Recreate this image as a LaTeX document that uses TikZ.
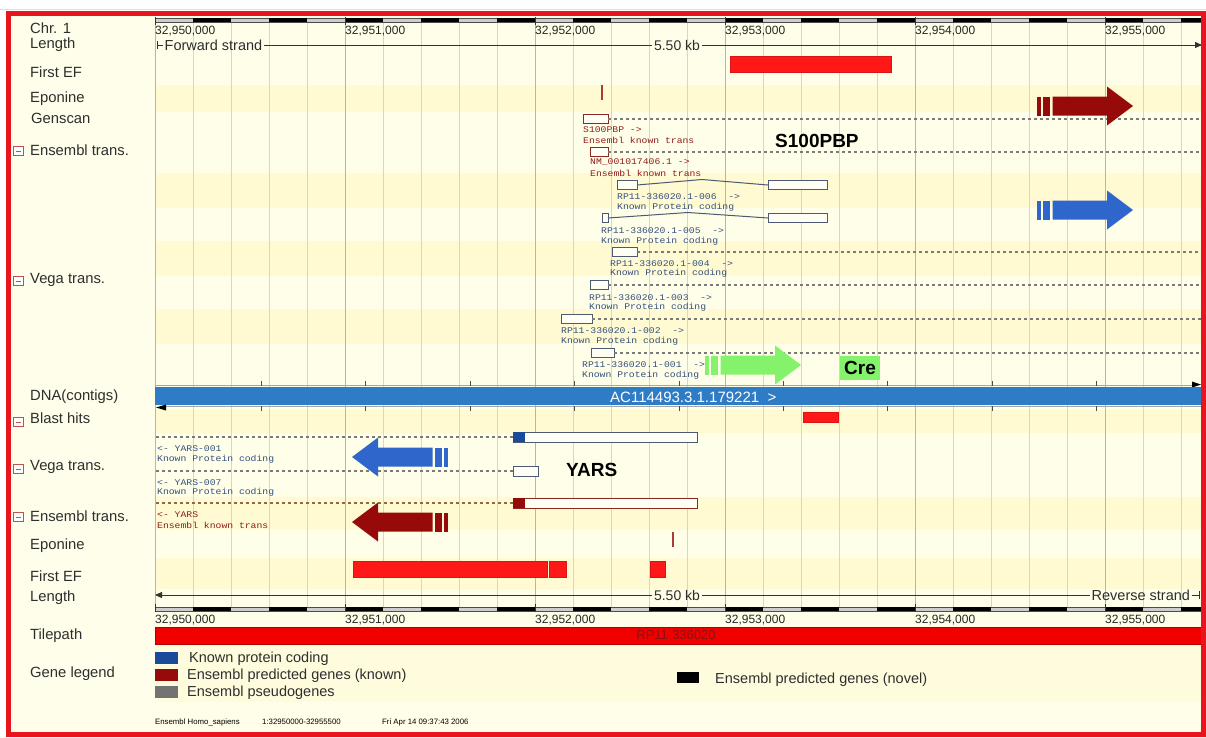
\documentclass[tikz,border=0pt]{standalone}
\usepackage{fontspec}
\setmainfont{Liberation Sans}
\newfontfamily\monof[FakeStretch=1.12]{Liberation Mono}
\usetikzlibrary{arrows.meta}

\definecolor{framered}{HTML}{E8141E}
\definecolor{bgA}{HTML}{FFFEE8}
\definecolor{bgB}{HTML}{FFFAD2}
\definecolor{bgC}{HTML}{FFFCDE}
\definecolor{panel}{HTML}{FFFEEA}
\definecolor{gridmin}{HTML}{DAD6C0}
\definecolor{gridmaj}{HTML}{BAB6A2}
\definecolor{efred}{HTML}{FF1818}
\definecolor{dred}{HTML}{960A0A}
\definecolor{vblue}{HTML}{2F66CC}
\definecolor{cgreen}{HTML}{84F26A}
\definecolor{dnablue}{HTML}{2E7CC6}
\definecolor{vegaline}{HTML}{4C5A74}
\definecolor{enline}{HTML}{8A2A1C}
\definecolor{vegatext}{HTML}{34507E}
\definecolor{entext}{HTML}{8E1E1E}
\definecolor{dashc}{HTML}{7A7A7A}
\definecolor{endash}{HTML}{8A6A4A}
\definecolor{labtext}{HTML}{2E2E2E}
\definecolor{kpblue}{HTML}{1A4B9B}
\definecolor{pseudo}{HTML}{737373}
\definecolor{scalegray}{HTML}{CDCDCD}
\definecolor{iconred}{HTML}{C0504D}
\definecolor{exfill}{HTML}{FFFEF4}
\definecolor{tiletext}{HTML}{8B1010}

% right/left pointing gene arrow with two leading stripes
\newcommand\genearrow[4]{%
  \begin{scope}[shift={(#1,#2)}, xscale=#4]
    \fill[#3] (0,-9.5) rectangle (4,9.5);
    \fill[#3] (6,-9.5) rectangle (13,9.5);
    \fill[#3] (15.5,-9.5) -- (70,-9.5) -- (70,-19.5) -- (96,0) -- (70,19.5) -- (70,9.5) -- (15.5,9.5) -- cycle;
  \end{scope}}

% collapse icon of a track label
\newcommand\collapseicon[1]{%
  \draw[iconred, line width=0.8pt, fill=white] (13,#1-4.5) rectangle (23,#1+4.5);
  \draw[iconred, line width=1pt] (15.5,#1) -- (20.5,#1);}

\begin{document}
\begin{tikzpicture}[x=1pt,y=-1pt,
  lbl/.style={font=\fontsize{14.8}{16}\selectfont, text=labtext, anchor=west, inner sep=0pt},
  scl/.style={font=\fontsize{12}{14}\selectfont, text=black!85, anchor=west, inner sep=0pt},
  tlab/.style={font=\monof\fontsize{8.7}{9}\selectfont, anchor=west, inner sep=0pt},
  big/.style={font=\bfseries\fontsize{19}{21}\selectfont, text=black, inner sep=0pt},
  vex/.style={rectangle, draw=vegaline, fill=exfill, line width=1pt, inner sep=0pt, outer sep=0pt, minimum height=8.5pt},
  eex/.style={vex, draw=enline},
  dashline/.style={dashc, line width=1.1pt, dash pattern=on 3pt off 3pt},
  endashline/.style={endash, line width=1.1pt, dash pattern=on 3pt off 3pt},
  intron/.style={vegaline, line width=1pt},
  lenline/.style={black!80, line width=0.9pt},
  legtxt/.style={font=\fontsize{14.5}{16}\selectfont, text=labtext, anchor=west, inner sep=0pt},
  foot/.style={font=\fontsize{7.8}{9}\selectfont, text=black, anchor=west, inner sep=0pt},
  efbar/.style={fill=efred, draw=efred!85!black, line width=0.4pt},
]
\useasboundingbox (0,0) rectangle (1206,737);
\fill[white] (0,0) rectangle (1206,737);
\draw[green!30, line width=1pt] (0,9.5) -- (1206,9.5);

% panels and alternating track bands
\fill[panel] (8,13) rectangle (155,735);
\fill[bgA] (155,13) rectangle (1204,735);
\foreach \ya/\yb in {85/112,173/208,241/276,309/344,410/433,497/530,558/589}
  \fill[bgB] (155,\ya) rectangle (1204,\yb);
\fill[bgC] (155,645) rectangle (1204,702);

% grid: a line every 200 bp, darker every kb
\foreach \k in {0,...,27}{
  \pgfmathsetmacro\gx{155+38*\k}
  \pgfmathtruncatemacro\mj{mod(\k,5)}
  \ifnum\mj=0 \draw[gridmaj, line width=0.8pt] (\gx,22) -- (\gx,607);
  \else \draw[gridmin, line width=0.8pt] (\gx,22) -- (\gx,607); \fi
}

% ---- top scale bar ----
\filldraw[fill=scalegray, draw=black!70, line width=0.6pt] (155,18) rectangle (1201,22);
\foreach \k in {1,3,...,27}{
  \pgfmathsetmacro\ax{155+38*\k}
  \pgfmathsetmacro\bx{min(155+38*(\k+1),1201)}
  \fill[black] (\ax,18) rectangle (\bx,22);
}
\foreach \j/\t in {0/950,1/951,2/952,3/953,4/954,5/955}{
  \draw[black!80, line width=0.8pt] ({155+190*\j},17) -- ({155+190*\j},25);
  \node[scl] (top\j) at ({155+190*\j},31) {32,\t,000};
}

% ---- forward length line ----
\node[font=\fontsize{14.5}{16}\selectfont, text=labtext, anchor=west, inner sep=1.5pt] (fs) at (163,45) {Forward strand};
\node[font=\fontsize{14}{16}\selectfont, text=labtext, inner sep=2pt] (kb1) at (677,45) {5.50 kb};
\coordinate (fstart) at (157,45);
\coordinate (fend) at (1202,45);
\draw[lenline] (157,41) -- (157,49);
\draw[lenline] (fstart) -- (fs.west);
\draw[lenline] (fs.east) -- (kb1.west);
\draw[lenline, -{Triangle[length=7pt,width=6pt]}] (kb1.east) -- (fend);

% ---- First EF / Eponine / Genscan (forward) ----
\fill[efbar] (730,56) rectangle (891,72);
\draw[dred!80, line width=1.8pt] (602,85) -- (602,100);

% ---- Ensembl transcripts (forward) ----
\node[eex, minimum width=25pt] (s1) at (595.5,119) {};
\coordinate (s1end) at (1201,119);
\draw[dashline] (s1.east) -- (s1end);
\node[tlab, text=entext] (s1a) at (583,129.5) {S100PBP\ ->};
\node[tlab, text=entext] (s1b) at (583,140) {Ensembl known trans};

\node[eex, minimum width=18pt] (s2) at (599,152) {};
\coordinate (s2end) at (1201,152);
\draw[dashline] (s2.east) -- (s2end);
\node[tlab, text=entext] (s2a) at (590,162.5) {NM\_001017406.1\ ->};
\node[tlab, text=entext] (s2b) at (590,173) {Ensembl known trans};

\node[big, anchor=west] (s100) at (775,141) {S100PBP};

\genearrow{1037}{106}{dred}{1}

% ---- Vega transcripts (forward) ----
\node[vex, minimum width=20pt] (v6a) at (627,185) {};
\node[vex, minimum width=59pt] (v6b) at (797.5,185) {};
\coordinate (v6peak) at (702,179.5);
\draw[intron] (v6a.east) -- (v6peak) -- (v6b.west);
\node[tlab, text=vegatext] (v6t) at (617,197) {RP11-336020.1-006\ \ ->};
\node[tlab, text=vegatext] (v6u) at (617,207) {Known Protein coding};

\node[vex, minimum width=6pt] (v5a) at (605,218) {};
\node[vex, minimum width=59pt] (v5b) at (797.5,218) {};
\coordinate (v5peak) at (688,212.5);
\draw[intron] (v5a.east) -- (v5peak) -- (v5b.west);
\node[tlab, text=vegatext] (v5t) at (601,231) {RP11-336020.1-005\ \ ->};
\node[tlab, text=vegatext] (v5u) at (601,241) {Known Protein coding};

\genearrow{1037}{210}{vblue}{1}

\node[vex, minimum width=25pt] (v4) at (624.5,252) {};
\coordinate (v4end) at (1201,252);
\draw[dashline] (v4.east) -- (v4end);
\node[tlab, text=vegatext] (v4t) at (610,264) {RP11-336020.1-004\ \ ->};
\node[tlab, text=vegatext] (v4u) at (610,273.5) {Known Protein coding};

\node[vex, minimum width=18pt] (v3) at (599,285) {};
\coordinate (v3end) at (1201,285);
\draw[dashline] (v3.east) -- (v3end);
\node[tlab, text=vegatext] (v3t) at (589,298) {RP11-336020.1-003\ \ ->};
\node[tlab, text=vegatext] (v3u) at (589,307.5) {Known Protein coding};

\node[vex, minimum width=31pt] (v2) at (576.5,319) {};
\coordinate (v2end) at (1201,319);
\draw[dashline] (v2.east) -- (v2end);
\node[tlab, text=vegatext] (v2t) at (561,331) {RP11-336020.1-002\ \ ->};
\node[tlab, text=vegatext] (v2u) at (561,341) {Known Protein coding};

\node[vex, minimum width=23pt] (v1) at (602.5,353) {};
\coordinate (v1end) at (1201,353);
\draw[dashline] (v1.east) -- (v1end);
\node[tlab, text=vegatext] (v1t) at (582,365) {RP11-336020.1-001\ \ ->};
\node[tlab, text=vegatext] (v1u) at (582,375) {Known Protein coding};

\genearrow{705}{365}{cgreen}{1}
\node[fill=cgreen, font=\bfseries\fontsize{19}{21}\selectfont, minimum width=40pt, minimum height=24pt, inner sep=0pt] (cre) at (860,368) {Cre};

% ---- DNA contig ----
\draw[gray!70, line width=0.8pt] (155,385.5) -- (1192,385.5);
\fill[black] (1192,381.5) -- (1201,384.5) -- (1192,387.5) -- cycle;
\fill[dnablue] (155,387) rectangle (1203,405);
\draw[gray!70, line width=0.8pt] (165,406.5) -- (1201,406.5);
\fill[black] (166,404.5) -- (156,407.5) -- (166,410.5) -- cycle;
\foreach \t in {0,...,8}{
  \pgfmathsetmacro\tx{261.5+104.4*\t}
  \draw[black!70, line width=0.9pt] (\tx,381) -- (\tx,386);
  \draw[black!70, line width=0.9pt] (\tx,406) -- (\tx,411);
}
\node[font=\fontsize{15}{16}\selectfont, text=white, anchor=west, inner sep=0pt] (contig) at (610,397) {AC114493.3.1.179221\ \ >};

% ---- Blast hits ----
\fill[efbar] (803,412) rectangle (838,422);

% ---- Vega transcripts (reverse) ----
\node[vex, minimum width=184pt, minimum height=10pt] (y1) at (605,437) {};
\fill[kpblue] (y1.north west) rectangle ([xshift=12pt]y1.south west);
\coordinate (y1end) at (155,437);
\draw[dashline] (y1.west) -- (y1end);
\node[tlab, text=vegatext] (y1t) at (157,449) {<-\ YARS-001};
\node[tlab, text=vegatext] (y1u) at (157,459) {Known Protein coding};

\node[vex, minimum width=25pt, minimum height=10pt] (y7) at (525.5,471) {};
\coordinate (y7end) at (155,471);
\draw[dashline] (y7.west) -- (y7end);
\node[tlab, text=vegatext] (y7t) at (157,482.5) {<-\ YARS-007};
\node[tlab, text=vegatext] (y7u) at (157,492.5) {Known Protein coding};

\genearrow{448}{457}{vblue}{-1}
\node[big, anchor=west] (yars) at (566,470) {YARS};

% ---- Ensembl transcript (reverse) ----
\node[eex, minimum width=184pt, minimum height=10pt] (ye) at (605,503) {};
\fill[dred] (ye.north west) rectangle ([xshift=12pt]ye.south west);
\coordinate (yeend) at (155,503);
\draw[endashline] (ye.west) -- (yeend);
\node[tlab, text=entext] (yet) at (157,515) {<-\ YARS};
\node[tlab, text=entext] (yeu) at (157,525) {Ensembl known trans};

\genearrow{448}{522}{dred}{-1}

% ---- Eponine / First EF (reverse) ----
\draw[dred!80, line width=1.8pt] (673,532) -- (673,547);
\fill[efbar] (353,561) rectangle (547,577);
\fill[efbar] (549,561) rectangle (566,577);
\fill[efbar] (650,561) rectangle (665,577);

% ---- reverse length line ----
\node[font=\fontsize{14}{16}\selectfont, text=labtext, inner sep=2pt] (kb2) at (677,595) {5.50 kb};
\node[font=\fontsize{14.5}{16}\selectfont, text=labtext, anchor=west, inner sep=1.5pt] (rs) at (1090,595) {Reverse strand};
\coordinate (rstart) at (155,595);
\coordinate (rend) at (1199,595);
\draw[lenline, -{Triangle[length=7pt,width=6pt]}] (kb2.west) -- (rstart);
\draw[lenline] (kb2.east) -- (rs.west);
\draw[lenline] (rs.east) -- (rend);
\draw[lenline] (1199,591) -- (1199,599);

% ---- bottom scale bar ----
\filldraw[fill=scalegray, draw=black!70, line width=0.6pt] (155,607) rectangle (1201,611);
\foreach \k in {1,3,...,27}{
  \pgfmathsetmacro\ax{155+38*\k}
  \pgfmathsetmacro\bx{min(155+38*(\k+1),1201)}
  \fill[black] (\ax,607) rectangle (\bx,611);
}
\foreach \j/\t in {0/950,1/951,2/952,3/953,4/954,5/955}{
  \draw[black!80, line width=0.8pt] ({155+190*\j},604) -- ({155+190*\j},612);
  \node[scl] (bot\j) at ({155+190*\j},620) {32,\t,000};
}

% ---- tilepath ----
\filldraw[fill=red!95!black, draw=red!70!black, line width=0.6pt] (155,627) rectangle (1203,644);
\node[font=\fontsize{13}{14}\selectfont, text=tiletext, inner sep=0pt] (tile) at (676,635.5) {RP11-336020};

% ---- gene legend ----
\fill[kpblue] (155,652) rectangle (178,664);
\node[legtxt] (lg1) at (189,659) {Known protein coding};
\fill[dred] (155,669) rectangle (178,681);
\node[legtxt] (lg2) at (187,676) {Ensembl predicted genes (known)};
\fill[pseudo] (155,686) rectangle (178,698);
\node[legtxt] (lg3) at (187,693) {Ensembl pseudogenes};
\fill[black] (677,672) rectangle (699,683);
\node[legtxt] (lg4) at (715,680) {Ensembl predicted genes (novel)};

\node[foot] (f1) at (155,722) {Ensembl Homo\_sapiens};
\node[foot] (f2) at (262,722) {1:32950000-32955500};
\node[foot] (f3) at (382,722) {Fri Apr 14 09:37:43 2006};

% ---- track labels ----
\node[lbl] (lChr) at (30,28) {Chr. 1};
\node[lbl] (lLen) at (30,45) {Length};
\node[lbl] (lEF) at (30,72) {First EF};
\node[lbl] (lEpo) at (30,99) {Eponine};
\node[lbl] (lGen) at (31,118) {Genscan};
\collapseicon{151}
\node[lbl] (lEns) at (30,150) {Ensembl trans.};
\collapseicon{281}
\node[lbl] (lVega) at (30,280) {Vega trans.};
\node[lbl] (lDNA) at (30,397) {DNA(contigs)};
\collapseicon{422}
\node[lbl] (lBlast) at (30,418) {Blast hits};
\collapseicon{469}
\node[lbl] (lVega2) at (30,467) {Vega trans.};
\collapseicon{517}
\node[lbl] (lEns2) at (30,516) {Ensembl trans.};
\node[lbl] (lEpo2) at (30,546) {Eponine};
\node[lbl] (lEF2) at (30,576) {First EF};
\node[lbl] (lLen2) at (30,598) {Length};
\node[lbl] (lTile) at (30,636) {Tilepath};
\node[lbl] (lLeg) at (30,674) {Gene legend};

% ---- outer frame ----
\draw[framered, line width=5pt] (8.5,13.5) rectangle (1203.5,734.5);
\end{tikzpicture}
\end{document}
